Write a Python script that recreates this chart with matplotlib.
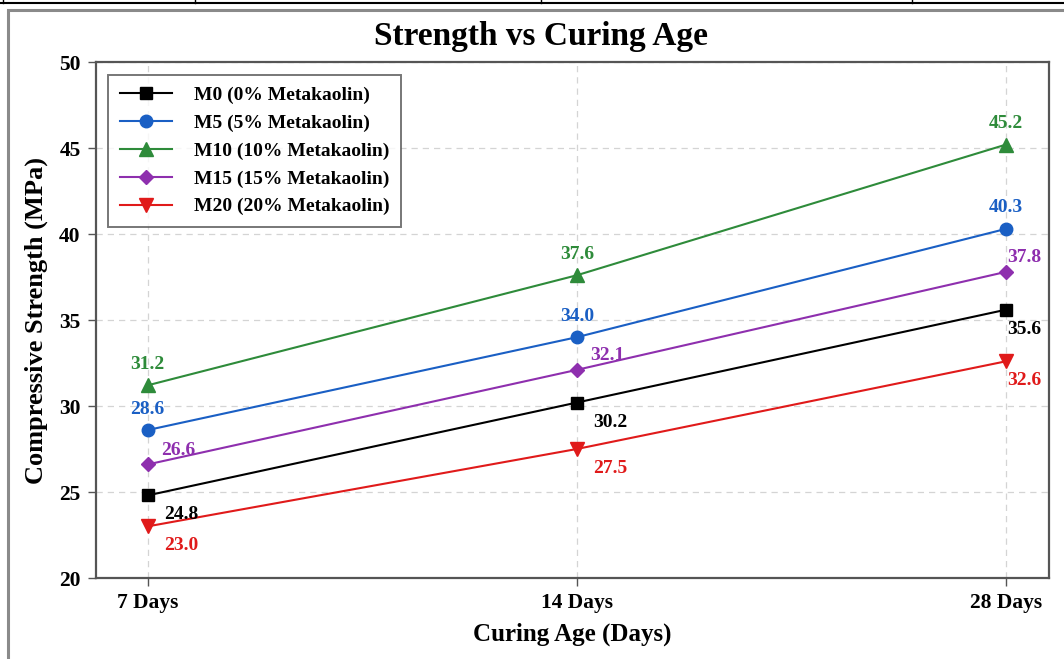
import matplotlib
matplotlib.use("Agg")
import matplotlib.pyplot as plt
from matplotlib.lines import Line2D
from matplotlib.patches import Rectangle

plt.rcParams['font.family'] = ['Liberation Serif', 'DejaVu Serif']
plt.rcParams['font.weight'] = 'bold'

categories = ["7 Days", "14 Days", "28 Days"]
series_names = ["M0 (0% Metakaolin)", "M5 (5% Metakaolin)", "M10 (10% Metakaolin)",
                "M15 (15% Metakaolin)", "M20 (20% Metakaolin)"]
m0 = [24.8, 30.2, 35.6]
m5 = [28.6, 34.0, 40.3]
m10 = [31.2, 37.6, 45.2]
m15 = [26.6, 32.1, 37.8]
m20 = [23.0, 27.5, 32.6]
y_ticks = [20, 25, 30, 35, 40, 45, 50]

values = [m0, m5, m10, m15, m20]
colors = ["#000000", "#1a5fc4", "#2e8b3a", "#8e2fae", "#e01a1a"]
markers = ["s", "o", "^", "D", "v"]
msizes = [8.5, 9, 9.5, 7.5, 9.5]
# label placement style per series
placement = ["right_down", "above", "above", "right_up", "right_down"]

W, H = 1064, 659
fig = plt.figure(figsize=(W / 100, H / 100), dpi=100)
fig.patch.set_facecolor("white")

# document frame decorations
fig.add_artist(Line2D([0, 1], [1 - 2.5 / H, 1 - 2.5 / H], color="black", lw=1.5,
                      transform=fig.transFigure))
for xv in [3, 195, 541, 912]:
    fig.add_artist(Line2D([xv / W, xv / W], [1, 1 - 2.5 / H], color="black", lw=1,
                          transform=fig.transFigure))
fig.add_artist(Rectangle((8 / W, -0.05), 1.1, 1 - 10 / H + 0.05, fill=False,
                         edgecolor="#8a8a8a", lw=2.2, transform=fig.transFigure))

ax = fig.add_axes([96 / W, 1 - 578 / H, (1049 - 96) / W, (578 - 62) / H])
x = list(range(len(categories)))

for name, vals, c, m, ms in zip(series_names, values, colors, markers, msizes):
    ax.plot(x, vals, color=c, marker=m, markersize=ms, lw=1.5, label=name, zorder=3)

for vals, c, pl in zip(values, colors, placement):
    for i, v in enumerate(vals):
        last = i == len(vals) - 1
        if pl == "above":
            off, ha, va = (0, 9), "center", "bottom"
        elif pl == "right_up":
            off, ha, va = ((1 if last else 10), 10), "left", "center"
        else:
            off, ha, va = ((1 if last else 12), -14), "left", "center"
        ax.annotate(f"{v:.1f}", (i, v), xytext=off, textcoords="offset points",
                    ha=ha, va=va, color=c, fontsize=14, fontweight="bold", zorder=4)

ax.set_xlim(-0.12, 2.1)
ax.set_ylim(20, 50)
ax.set_xticks(x)
ax.set_xticklabels(categories)
ax.set_yticks(y_ticks)
ax.tick_params(axis="both", direction="out", length=6, width=1, color="#555555",
               labelsize=15.5, pad=5)
for lbl in ax.get_xticklabels() + ax.get_yticklabels():
    lbl.set_fontweight("bold")
ax.grid(True, linestyle=(0, (5, 4)), color="#d4d4d4", lw=0.9, zorder=0)
for s in ax.spines.values():
    s.set_color("#555555")
    s.set_linewidth(1.6)

fig.text(541 / W, 1 - 37 / H, "Strength vs Curing Age", fontsize=24, fontweight="bold",
         ha="center", va="center")
ax.set_xlabel("Curing Age (Days)", fontsize=18, fontweight="bold", labelpad=7)
ax.set_ylabel("Compressive Strength (MPa)", fontsize=19, fontweight="bold", labelpad=8)

leg = ax.legend(loc="upper left", bbox_to_anchor=(12 / 953, 1 - 13 / 516),
                prop={"weight": "bold", "size": 14}, frameon=True, fancybox=False,
                edgecolor="#555555", borderpad=0.6, labelspacing=0.52, handlelength=2.7,
                handletextpad=1.1, borderaxespad=0)
leg.get_frame().set_linewidth(1.4)

fig.savefig("out.png", dpi=100, facecolor="white")
